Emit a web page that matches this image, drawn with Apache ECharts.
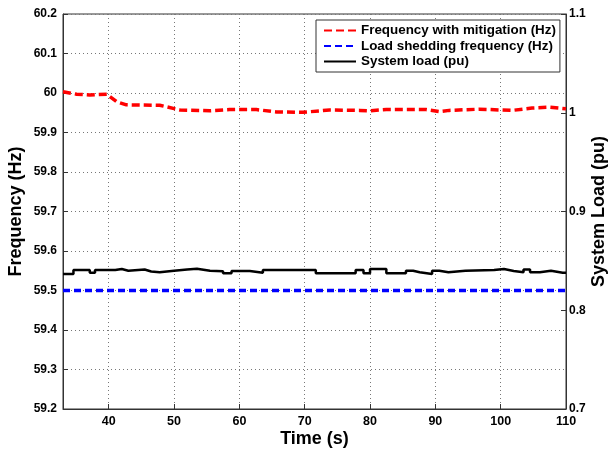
<!DOCTYPE html>
<html>
<head>
<meta charset="utf-8">
<script src="https://cdn.jsdelivr.net/npm/echarts@6/dist/echarts.min.js"></script>
<style>
html,body{margin:0;padding:0;background:#fff;}
#chart{width:611px;height:450px;}
</style>
</head>
<body>
<div id="chart"></div>
<script>
// Data
var xTicks = [40, 50, 60, 70, 80, 90, 100, 110];
var freqTime = [33, 35.1, 37.1, 39.7, 41.2, 42.7, 47.8, 50.9, 55.5, 58.5, 62.6, 65.7, 69.7, 73.8, 78.4, 79.9, 82.5, 88.6, 90.6, 92.1, 96.7, 101.8, 104.8, 107.4, 110];
var freqVal = [60.003, 59.997, 59.995, 59.997, 59.978, 59.970, 59.969, 59.957, 59.955, 59.958, 59.958, 59.952, 59.951, 59.957, 59.956, 59.955, 59.958, 59.958, 59.953, 59.956, 59.959, 59.956, 59.962, 59.964, 59.960];
var shedTime = [33, 110];
var shedVal = [59.5, 59.5];
var loadTime = [33, 34.6, 37.1, 37.9, 41, 42, 43, 45.5, 46.5, 47.8, 50, 52, 53.5, 55.5, 57.5, 58.8, 61.6, 63.6, 67.7, 68, 71.7, 77.8, 79, 80, 82.5, 85.5, 86.6, 87.6, 89.5, 90.6, 92, 94.6, 99, 100.5, 102, 103.5, 104.5, 106, 107.7, 109.5, 110];
var loadVal = [0.8367, 0.8408, 0.8380, 0.8408, 0.8418, 0.8400, 0.8412, 0.8392, 0.8385, 0.8400, 0.8412, 0.8420, 0.8400, 0.8395, 0.8374, 0.8398, 0.8380, 0.8408, 0.8390, 0.8408, 0.8374, 0.8408, 0.8374, 0.8418, 0.8374, 0.8400, 0.8385, 0.8367, 0.8400, 0.8385, 0.8400, 0.8408, 0.8418, 0.8398, 0.8385, 0.8412, 0.8385, 0.8400, 0.8380, 0.8380, 0.8380];

function pairs(xs, ys){ return xs.map(function(x,i){ return [x, ys[i]]; }); }

var FONT = '"Liberation Sans", Arial, sans-serif';
var chart = echarts.init(document.getElementById('chart'), null, {renderer:'canvas'});
chart.setOption({
  animation: false,
  backgroundColor: '#fff',
  textStyle: {fontFamily: FONT},
  grid: {left: 63, right: 45, top: 14, bottom: 41, outerBoundsMode: 'none', containLabel: false,
    show: true, borderColor: '#333', borderWidth: 1, backgroundColor: 'transparent'},
  legend: {
    left: 316, top: 20, orient: 'vertical',
    backgroundColor: '#fff', borderColor: '#333', borderWidth: 1,
    padding: [4, 4, 4, 7], itemWidth: 32, itemHeight: 12, itemGap: 2.5,
    itemStyle: {opacity: 0},
    textStyle: {fontFamily: FONT, fontWeight: 'bold', fontSize: 13.4, color: '#000'},
    data: ['Frequency with mitigation (Hz)', 'Load shedding frequency (Hz)', 'System load (pu)']
  },
  xAxis: {
    type: 'value', min: 33, max: 110,
    name: 'Time (s)', nameLocation: 'middle', nameGap: 21, nameMoveOverlap: false,
    nameTextStyle: {fontFamily: FONT, fontWeight: 'bold', fontSize: 18, color: '#000'},
    axisLine: {show: true, lineStyle: {color: '#333'}},
    axisTick: {show: true, inside: true, length: 5, customValues: xTicks, lineStyle: {color: '#333'}},
    axisLabel: {customValues: xTicks, color: '#000', fontFamily: FONT, fontWeight: 'bold', fontSize: 12.5, margin: 6},
    splitLine: {show: true, lineStyle: {color: '#777', type: [1, 3], width: 1}}
  },
  yAxis: [{
    type: 'value', min: 59.2, max: 60.2, interval: 0.1, position: 'left',
    name: 'Frequency (Hz)', nameLocation: 'middle', nameGap: 38, nameMoveOverlap: false,
    nameTextStyle: {fontFamily: FONT, fontWeight: 'bold', fontSize: 18, color: '#000'},
    axisLine: {show: true, lineStyle: {color: '#333'}},
    axisTick: {show: true, inside: true, length: 5, lineStyle: {color: '#333'}},
    axisLabel: {color: '#000', fontFamily: FONT, fontWeight: 'bold', fontSize: 12, margin: 6,
      formatter: function(v){ return String(+v.toFixed(1)); }},
    splitLine: {show: true, lineStyle: {color: '#777', type: [1, 3], width: 1}}
  }, {
    type: 'value', min: 0.7, max: 1.1, interval: 0.1, position: 'right',
    name: 'System Load (pu)', nameLocation: 'middle', nameGap: 24, nameMoveOverlap: false,
    nameTextStyle: {fontFamily: FONT, fontWeight: 'bold', fontSize: 18, color: '#000'},
    axisLine: {show: true, lineStyle: {color: '#333'}},
    axisTick: {show: true, inside: true, length: 5, lineStyle: {color: '#333'}},
    axisLabel: {color: '#000', fontFamily: FONT, fontWeight: 'bold', fontSize: 12, margin: 3,
      formatter: function(v){ return String(+v.toFixed(1)); }},
    splitLine: {show: false}
  }],
  series: [{
    name: 'Frequency with mitigation (Hz)', type: 'line', yAxisIndex: 0,
    data: pairs(freqTime, freqVal), symbol: 'none', z: 4,
    lineStyle: {color: '#ff0000', width: 3.5, type: [8, 4]}, itemStyle: {color: '#ff0000'}
  }, {
    name: 'Load shedding frequency (Hz)', type: 'line', yAxisIndex: 0,
    data: pairs(shedTime, shedVal), symbol: 'none', z: 4,
    lineStyle: {color: '#0000ff', width: 3.5, type: [7, 4]}, itemStyle: {color: '#0000ff'}
  }, {
    name: 'System load (pu)', type: 'line', yAxisIndex: 1, step: 'end',
    data: pairs(loadTime, loadVal), symbol: 'none', z: 3,
    lineStyle: {color: '#000', width: 2.5}, itemStyle: {color: '#000'}
  }]
});
</script>
</body>
</html>
